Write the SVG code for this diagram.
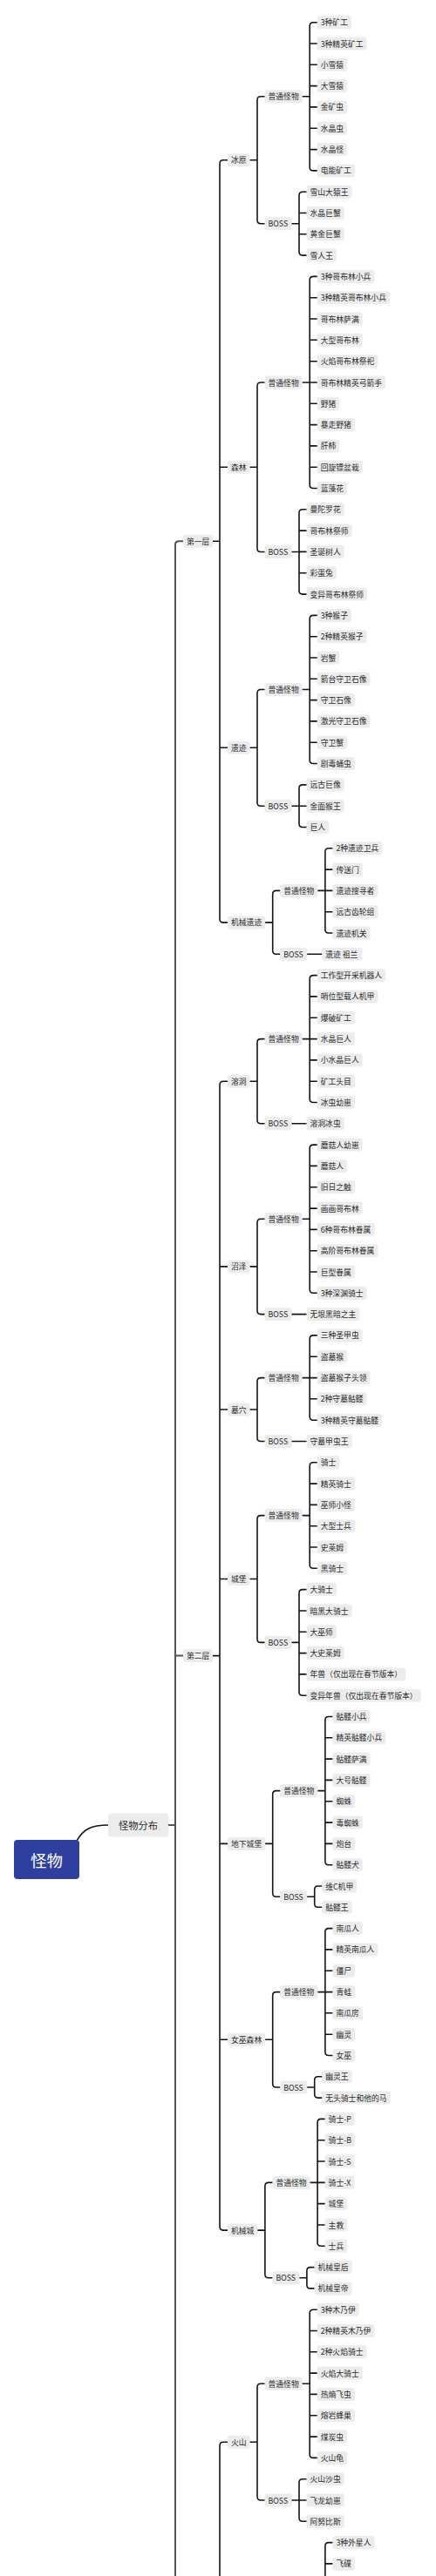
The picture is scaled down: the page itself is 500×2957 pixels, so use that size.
<svg xmlns="http://www.w3.org/2000/svg" width="500" height="2957" viewBox="0 0 500 2957">
<style>
.n rect{fill:#ececec}
.n text{font-family:"Noto Sans CJK SC","Liberation Sans",sans-serif;font-size:8.8px;fill:#2b2b2b;dominant-baseline:central}
.c path{fill:none;stroke:#151515;stroke-width:1.6;stroke-linecap:round}
.c path.g{stroke:#555;stroke-width:2}
</style>
<rect width="500" height="2957" fill="#fff"/>
<g id="connectors" class="c">
<path d="M88.3 2112.3C96 2100 104 2095 124 2095"/>
<path class="g" d="M193 2095H201M210 621.3H205Q201 621.3 201 625.3V2957M201 1900.6H210"/>
<path d="M244 621.3H252M261 183.7H256Q252 183.7 252 187.7V1054.9Q252 1058.9 256 1058.9H261M252 536.2H261M252 858.3H261"/>
<path d="M244 1900.6H252M261 1241.2H256Q252 1241.2 252 1245.2V2556.1Q252 2560.1 256 2560.1H261M252 1453.9H261M252 1618H261M252 1812.5H261M252 2116.4H261M252 2341.3H261"/>
<path d="M261 2803.2H256Q252 2803.2 252 2807.2V2957"/>
<path d="M286.6 183.7H295M303.5 110.8H299Q295 110.8 295 114.8V252.7Q295 256.7 299 256.7H303.5"/>
<path d="M346.7 110.8H355.2M363.7 25.7H359.2Q355.2 25.7 355.2 29.7V191.9Q355.2 195.9 359.2 195.9H363.7M355.2 50H363.7M355.2 74.3H363.7M355.2 98.6H363.7M355.2 122.9H363.7M355.2 147.3H363.7M355.2 171.6H363.7"/>
<path d="M334.5 256.7H343M351.5 220.2H347Q343 220.2 343 224.2V289.1Q343 293.1 347 293.1H351.5M343 244.5H351.5M343 268.8H351.5"/>
<path d="M286.6 536.2H295M303.5 439H299Q295 439 295 443V629.5Q295 633.5 299 633.5H303.5"/>
<path d="M346.7 439H355.2M363.7 317.4H359.2Q355.2 317.4 355.2 321.4V556.5Q355.2 560.5 359.2 560.5H363.7M355.2 341.7H363.7M355.2 366H363.7M355.2 390.3H363.7M355.2 414.7H363.7M355.2 439H363.7M355.2 463.3H363.7M355.2 487.6H363.7M355.2 511.9H363.7M355.2 536.2H363.7"/>
<path d="M334.5 633.5H343M351.5 584.8H347Q343 584.8 343 588.8V678.1Q343 682.1 347 682.1H351.5M343 609.1H351.5M343 633.4H351.5M343 657.8H351.5"/>
<path d="M286.6 858.3H295M303.5 791.5H299Q295 791.5 295 795.5V921.2Q295 925.2 299 925.2H303.5"/>
<path d="M346.7 791.5H355.2M363.7 706.4H359.2Q355.2 706.4 355.2 710.4V872.5Q355.2 876.5 359.2 876.5H363.7M355.2 730.7H363.7M355.2 755H363.7M355.2 779.3H363.7M355.2 803.6H363.7M355.2 827.9H363.7M355.2 852.2H363.7"/>
<path d="M334.5 925.2H351.5M351.5 900.9H347Q343 900.9 343 904.9V945.5Q343 949.5 347 949.5H351.5"/>
<path d="M304.2 1058.9H312.7M321.2 1022.4H316.7Q312.7 1022.4 312.7 1026.4V1091.3Q312.7 1095.3 316.7 1095.3H321.2"/>
<path d="M364.4 1022.4H381.4M381.4 973.8H376.9Q372.9 973.8 372.9 977.8V1067Q372.9 1071 376.9 1071H381.4M372.9 998.1H381.4M372.9 1046.7H381.4"/>
<path d="M352.2 1095.3H369.2"/>
<path d="M286.6 1241.2H295M303.5 1192.6H299Q295 1192.6 295 1196.6V1285.8Q295 1289.8 299 1289.8H303.5"/>
<path d="M346.7 1192.6H363.7M363.7 1119.6H359.2Q355.2 1119.6 355.2 1123.6V1261.5Q355.2 1265.5 359.2 1265.5H363.7M355.2 1143.9H363.7M355.2 1168.3H363.7M355.2 1216.9H363.7M355.2 1241.2H363.7"/>
<path d="M334.5 1289.8H351.5"/>
<path d="M286.6 1453.9H295M303.5 1399.2H299Q295 1399.2 295 1403.2V1504.6Q295 1508.6 299 1508.6H303.5"/>
<path d="M346.7 1399.2H355.2M363.7 1314.1H359.2Q355.2 1314.1 355.2 1318.1V1480.3Q355.2 1484.3 359.2 1484.3H363.7M355.2 1338.4H363.7M355.2 1362.7H363.7M355.2 1387.1H363.7M355.2 1411.4H363.7M355.2 1435.7H363.7M355.2 1460H363.7"/>
<path d="M334.5 1508.6H351.5"/>
<path d="M286.6 1618H295M303.5 1581.6H299Q295 1581.6 295 1585.6V1650.5Q295 1654.5 299 1654.5H303.5"/>
<path d="M346.7 1581.6H363.7M363.7 1532.9H359.2Q355.2 1532.9 355.2 1536.9V1626.2Q355.2 1630.2 359.2 1630.2H363.7M355.2 1557.2H363.7M355.2 1605.8H363.7"/>
<path d="M334.5 1654.5H351.5"/>
<path d="M286.6 1812.5H295M303.5 1739.6H299Q295 1739.6 295 1743.6V1881.4Q295 1885.4 299 1885.4H303.5"/>
<path d="M346.7 1739.6H355.2M363.7 1678.8H359.2Q355.2 1678.8 355.2 1682.8V1796.3Q355.2 1800.3 359.2 1800.3H363.7M355.2 1703.1H363.7M355.2 1727.4H363.7M355.2 1751.7H363.7M355.2 1776H363.7"/>
<path d="M334.5 1885.4H343M351.5 1824.6H347Q343 1824.6 343 1828.6V1942.2Q343 1946.2 347 1946.2H351.5M343 1849H351.5M343 1873.3H351.5M343 1897.6H351.5M343 1921.9H351.5"/>
<path d="M304.2 2116.4H312.7M321.2 2055.6H316.7Q312.7 2055.6 312.7 2059.6V2173.2Q312.7 2177.2 316.7 2177.2H321.2"/>
<path d="M364.4 2055.6H372.9M381.4 1970.5H376.9Q372.9 1970.5 372.9 1974.5V2136.7Q372.9 2140.7 376.9 2140.7H381.4M372.9 1994.8H381.4M372.9 2019.1H381.4M372.9 2043.4H381.4M372.9 2067.7H381.4M372.9 2092.1H381.4M372.9 2116.4H381.4"/>
<path d="M352.2 2177.2H360.7M369.2 2165H364.7Q360.7 2165 360.7 2169V2185.3Q360.7 2189.3 364.7 2189.3H369.2"/>
<path d="M304.2 2341.3H312.7M321.2 2286.6H316.7Q312.7 2286.6 312.7 2290.6V2392Q312.7 2396 316.7 2396H321.2"/>
<path d="M364.4 2286.6H381.4M381.4 2213.6H376.9Q372.9 2213.6 372.9 2217.6V2355.5Q372.9 2359.5 376.9 2359.5H381.4M372.9 2237.9H381.4M372.9 2262.2H381.4M372.9 2310.8H381.4M372.9 2335.2H381.4"/>
<path d="M352.2 2396H360.7M369.2 2383.8H364.7Q360.7 2383.8 360.7 2387.8V2404.1Q360.7 2408.1 364.7 2408.1H369.2"/>
<path d="M295.4 2560.1H303.9M312.4 2505.4H307.9Q303.9 2505.4 303.9 2509.4V2610.8Q303.9 2614.8 307.9 2614.8H312.4"/>
<path d="M355.6 2505.4H372.6M372.6 2432.4H368.1Q364.1 2432.4 364.1 2436.4V2574.3Q364.1 2578.3 368.1 2578.3H372.6M364.1 2456.7H372.6M364.1 2481H372.6M364.1 2529.6H372.6M364.1 2554H372.6"/>
<path d="M343.4 2614.8H351.9M360.4 2602.6H355.9Q351.9 2602.6 351.9 2606.6V2622.9Q351.9 2626.9 355.9 2626.9H360.4"/>
<path d="M286.6 2803.2H295M303.5 2736.3H299Q295 2736.3 295 2740.3V2866Q295 2870 299 2870H303.5"/>
<path d="M346.7 2736.3H355.2M363.7 2651.2H359.2Q355.2 2651.2 355.2 2655.2V2817.4Q355.2 2821.4 359.2 2821.4H363.7M355.2 2675.5H363.7M355.2 2699.8H363.7M355.2 2724.1H363.7M355.2 2748.4H363.7M355.2 2772.7H363.7M355.2 2797.1H363.7"/>
<path d="M334.5 2870H351.5M351.5 2845.7H347Q343 2845.7 343 2849.7V2890.3Q343 2894.3 347 2894.3H351.5"/>
<path d="M381.4 2918.6H376.9Q372.9 2918.6 372.9 2922.6V2957M372.9 2942.9H381.4"/>
</g>
<g id="root"><rect x="16" y="2112" width="75" height="45" rx="4" fill="#2f3f9f"/><text x="53.5" y="2135" font-family="Noto Sans CJK SC,Liberation Sans,sans-serif" font-size="18.5" fill="#fff" text-anchor="middle" dominant-baseline="central">怪物</text></g>
<g id="dist"><rect x="124" y="2081.5" width="69" height="27" rx="4" fill="#ececec"/><text x="158.5" y="2095" font-family="Noto Sans CJK SC,Liberation Sans,sans-serif" font-size="11.3" fill="#2b2b2b" text-anchor="middle" dominant-baseline="central">怪物分布</text></g>
<g id="layer1" class="n"><rect x="210" y="613.8" width="34" height="15" rx="3"/><text x="214" y="621.3">第一层</text></g>
<g id="layer2" class="n"><rect x="210" y="1893.1" width="34" height="15" rx="3"/><text x="214" y="1900.6">第二层</text></g>
<g id="bingyuan" class="n"><rect x="261" y="176.2" width="25.6" height="15" rx="3"/><text x="265" y="183.7">冰原</text></g>
<g id="senlin" class="n"><rect x="261" y="528.7" width="25.6" height="15" rx="3"/><text x="265" y="536.2">森林</text></g>
<g id="yiji" class="n"><rect x="261" y="850.8" width="25.6" height="15" rx="3"/><text x="265" y="858.3">遗迹</text></g>
<g id="jixieyiji" class="n"><rect x="261" y="1051.4" width="43.2" height="15" rx="3"/><text x="265" y="1058.9">机械遗迹</text></g>
<g id="rongdong" class="n"><rect x="261" y="1233.7" width="25.6" height="15" rx="3"/><text x="265" y="1241.2">溶洞</text></g>
<g id="zhaoze" class="n"><rect x="261" y="1446.4" width="25.6" height="15" rx="3"/><text x="265" y="1453.9">沼泽</text></g>
<g id="muxue" class="n"><rect x="261" y="1610.5" width="25.6" height="15" rx="3"/><text x="265" y="1618">墓穴</text></g>
<g id="chengbao" class="n"><rect x="261" y="1805" width="25.6" height="15" rx="3"/><text x="265" y="1812.5">城堡</text></g>
<g id="dixiachengbao" class="n"><rect x="261" y="2108.9" width="43.2" height="15" rx="3"/><text x="265" y="2116.4">地下城堡</text></g>
<g id="nvwusenlin" class="n"><rect x="261" y="2333.8" width="43.2" height="15" rx="3"/><text x="265" y="2341.3">女巫森林</text></g>
<g id="jixiecheng" class="n"><rect x="261" y="2552.6" width="34.4" height="15" rx="3"/><text x="265" y="2560.1">机械城</text></g>
<g id="huoshan" class="n"><rect x="261" y="2795.7" width="25.6" height="15" rx="3"/><text x="265" y="2803.2">火山</text></g>
<g id="bingyuan-n" class="n"><rect x="303.5" y="103.3" width="43.2" height="15" rx="3"/><text x="307.5" y="110.8">普通怪物</text></g>
<g id="bingyuan-b" class="n"><rect x="303.5" y="249.2" width="31" height="15" rx="3"/><text x="307.5" y="256.7">BOSS</text></g>
<g id="senlin-n" class="n"><rect x="303.5" y="431.5" width="43.2" height="15" rx="3"/><text x="307.5" y="439">普通怪物</text></g>
<g id="senlin-b" class="n"><rect x="303.5" y="626" width="31" height="15" rx="3"/><text x="307.5" y="633.5">BOSS</text></g>
<g id="yiji-n" class="n"><rect x="303.5" y="784" width="43.2" height="15" rx="3"/><text x="307.5" y="791.5">普通怪物</text></g>
<g id="yiji-b" class="n"><rect x="303.5" y="917.7" width="31" height="15" rx="3"/><text x="307.5" y="925.2">BOSS</text></g>
<g id="jixieyiji-n" class="n"><rect x="321.2" y="1014.9" width="43.2" height="15" rx="3"/><text x="325.2" y="1022.4">普通怪物</text></g>
<g id="jixieyiji-b" class="n"><rect x="321.2" y="1087.8" width="31" height="15" rx="3"/><text x="325.2" y="1095.3">BOSS</text></g>
<g id="rongdong-n" class="n"><rect x="303.5" y="1185.1" width="43.2" height="15" rx="3"/><text x="307.5" y="1192.6">普通怪物</text></g>
<g id="rongdong-b" class="n"><rect x="303.5" y="1282.3" width="31" height="15" rx="3"/><text x="307.5" y="1289.8">BOSS</text></g>
<g id="zhaoze-n" class="n"><rect x="303.5" y="1391.7" width="43.2" height="15" rx="3"/><text x="307.5" y="1399.2">普通怪物</text></g>
<g id="zhaoze-b" class="n"><rect x="303.5" y="1501.1" width="31" height="15" rx="3"/><text x="307.5" y="1508.6">BOSS</text></g>
<g id="muxue-n" class="n"><rect x="303.5" y="1574.1" width="43.2" height="15" rx="3"/><text x="307.5" y="1581.6">普通怪物</text></g>
<g id="muxue-b" class="n"><rect x="303.5" y="1647" width="31" height="15" rx="3"/><text x="307.5" y="1654.5">BOSS</text></g>
<g id="chengbao-n" class="n"><rect x="303.5" y="1732.1" width="43.2" height="15" rx="3"/><text x="307.5" y="1739.6">普通怪物</text></g>
<g id="chengbao-b" class="n"><rect x="303.5" y="1877.9" width="31" height="15" rx="3"/><text x="307.5" y="1885.4">BOSS</text></g>
<g id="dixiachengbao-n" class="n"><rect x="321.2" y="2048.1" width="43.2" height="15" rx="3"/><text x="325.2" y="2055.6">普通怪物</text></g>
<g id="dixiachengbao-b" class="n"><rect x="321.2" y="2169.7" width="31" height="15" rx="3"/><text x="325.2" y="2177.2">BOSS</text></g>
<g id="nvwusenlin-n" class="n"><rect x="321.2" y="2279.1" width="43.2" height="15" rx="3"/><text x="325.2" y="2286.6">普通怪物</text></g>
<g id="nvwusenlin-b" class="n"><rect x="321.2" y="2388.5" width="31" height="15" rx="3"/><text x="325.2" y="2396">BOSS</text></g>
<g id="jixiecheng-n" class="n"><rect x="312.4" y="2497.9" width="43.2" height="15" rx="3"/><text x="316.4" y="2505.4">普通怪物</text></g>
<g id="jixiecheng-b" class="n"><rect x="312.4" y="2607.3" width="31" height="15" rx="3"/><text x="316.4" y="2614.8">BOSS</text></g>
<g id="huoshan-n" class="n"><rect x="303.5" y="2728.8" width="43.2" height="15" rx="3"/><text x="307.5" y="2736.3">普通怪物</text></g>
<g id="huoshan-b" class="n"><rect x="303.5" y="2862.5" width="31" height="15" rx="3"/><text x="307.5" y="2870">BOSS</text></g>
<g id="m0" class="n"><rect x="363.7" y="18.2" width="39.3" height="15" rx="3"/><text x="367.7" y="25.7">3种矿工</text></g>
<g id="m1" class="n"><rect x="363.7" y="42.5" width="56.9" height="15" rx="3"/><text x="367.7" y="50">3种精英矿工</text></g>
<g id="m2" class="n"><rect x="363.7" y="66.8" width="34.4" height="15" rx="3"/><text x="367.7" y="74.3">小雪猿</text></g>
<g id="m3" class="n"><rect x="363.7" y="91.1" width="34.4" height="15" rx="3"/><text x="367.7" y="98.6">大雪猿</text></g>
<g id="m4" class="n"><rect x="363.7" y="115.4" width="34.4" height="15" rx="3"/><text x="367.7" y="122.9">金矿虫</text></g>
<g id="m5" class="n"><rect x="363.7" y="139.8" width="34.4" height="15" rx="3"/><text x="367.7" y="147.3">水晶虫</text></g>
<g id="m6" class="n"><rect x="363.7" y="164.1" width="34.4" height="15" rx="3"/><text x="367.7" y="171.6">水晶怪</text></g>
<g id="m7" class="n"><rect x="363.7" y="188.4" width="43.2" height="15" rx="3"/><text x="367.7" y="195.9">电能矿工</text></g>
<g id="m8" class="n"><rect x="351.5" y="212.7" width="52" height="15" rx="3"/><text x="355.5" y="220.2">雪山大猿王</text></g>
<g id="m9" class="n"><rect x="351.5" y="237" width="43.2" height="15" rx="3"/><text x="355.5" y="244.5">水晶巨蟹</text></g>
<g id="m10" class="n"><rect x="351.5" y="261.3" width="43.2" height="15" rx="3"/><text x="355.5" y="268.8">黄金巨蟹</text></g>
<g id="m11" class="n"><rect x="351.5" y="285.6" width="34.4" height="15" rx="3"/><text x="355.5" y="293.1">雪人王</text></g>
<g id="m12" class="n"><rect x="363.7" y="309.9" width="65.7" height="15" rx="3"/><text x="367.7" y="317.4">3种哥布林小兵</text></g>
<g id="m13" class="n"><rect x="363.7" y="334.2" width="83.3" height="15" rx="3"/><text x="367.7" y="341.7">3种精英哥布林小兵</text></g>
<g id="m14" class="n"><rect x="363.7" y="358.5" width="52" height="15" rx="3"/><text x="367.7" y="366">哥布林萨满</text></g>
<g id="m15" class="n"><rect x="363.7" y="382.8" width="52" height="15" rx="3"/><text x="367.7" y="390.3">大型哥布林</text></g>
<g id="m16" class="n"><rect x="363.7" y="407.2" width="69.6" height="15" rx="3"/><text x="367.7" y="414.7">火焰哥布林祭祀</text></g>
<g id="m17" class="n"><rect x="363.7" y="431.5" width="78.4" height="15" rx="3"/><text x="367.7" y="439">哥布林精英弓箭手</text></g>
<g id="m18" class="n"><rect x="363.7" y="455.8" width="25.6" height="15" rx="3"/><text x="367.7" y="463.3">野猪</text></g>
<g id="m19" class="n"><rect x="363.7" y="480.1" width="43.2" height="15" rx="3"/><text x="367.7" y="487.6">暴走野猪</text></g>
<g id="m20" class="n"><rect x="363.7" y="504.4" width="25.6" height="15" rx="3"/><text x="367.7" y="511.9">肝柿</text></g>
<g id="m21" class="n"><rect x="363.7" y="528.7" width="52" height="15" rx="3"/><text x="367.7" y="536.2">回旋镖盆栽</text></g>
<g id="m22" class="n"><rect x="363.7" y="553" width="34.4" height="15" rx="3"/><text x="367.7" y="560.5">蓝藻花</text></g>
<g id="m23" class="n"><rect x="351.5" y="577.3" width="43.2" height="15" rx="3"/><text x="355.5" y="584.8">曼陀罗花</text></g>
<g id="m24" class="n"><rect x="351.5" y="601.6" width="52" height="15" rx="3"/><text x="355.5" y="609.1">哥布林祭师</text></g>
<g id="m25" class="n"><rect x="351.5" y="625.9" width="43.2" height="15" rx="3"/><text x="355.5" y="633.4">圣诞树人</text></g>
<g id="m26" class="n"><rect x="351.5" y="650.3" width="34.4" height="15" rx="3"/><text x="355.5" y="657.8">彩蛋兔</text></g>
<g id="m27" class="n"><rect x="351.5" y="674.6" width="69.6" height="15" rx="3"/><text x="355.5" y="682.1">变异哥布林祭师</text></g>
<g id="m28" class="n"><rect x="363.7" y="698.9" width="39.3" height="15" rx="3"/><text x="367.7" y="706.4">3种猴子</text></g>
<g id="m29" class="n"><rect x="363.7" y="723.2" width="56.9" height="15" rx="3"/><text x="367.7" y="730.7">2种精英猴子</text></g>
<g id="m30" class="n"><rect x="363.7" y="747.5" width="25.6" height="15" rx="3"/><text x="367.7" y="755">岩蟹</text></g>
<g id="m31" class="n"><rect x="363.7" y="771.8" width="60.8" height="15" rx="3"/><text x="367.7" y="779.3">箭台守卫石像</text></g>
<g id="m32" class="n"><rect x="363.7" y="796.1" width="43.2" height="15" rx="3"/><text x="367.7" y="803.6">守卫石像</text></g>
<g id="m33" class="n"><rect x="363.7" y="820.4" width="60.8" height="15" rx="3"/><text x="367.7" y="827.9">激光守卫石像</text></g>
<g id="m34" class="n"><rect x="363.7" y="844.7" width="34.4" height="15" rx="3"/><text x="367.7" y="852.2">守卫蟹</text></g>
<g id="m35" class="n"><rect x="363.7" y="869" width="43.2" height="15" rx="3"/><text x="367.7" y="876.5">剧毒蛹虫</text></g>
<g id="m36" class="n"><rect x="351.5" y="893.4" width="43.2" height="15" rx="3"/><text x="355.5" y="900.9">远古巨像</text></g>
<g id="m37" class="n"><rect x="351.5" y="917.7" width="43.2" height="15" rx="3"/><text x="355.5" y="925.2">金面猴王</text></g>
<g id="m38" class="n"><rect x="351.5" y="942" width="25.6" height="15" rx="3"/><text x="355.5" y="949.5">巨人</text></g>
<g id="m39" class="n"><rect x="381.4" y="966.3" width="56.9" height="15" rx="3"/><text x="385.4" y="973.8">2种遗迹卫兵</text></g>
<g id="m40" class="n"><rect x="381.4" y="990.6" width="34.4" height="15" rx="3"/><text x="385.4" y="998.1">传送门</text></g>
<g id="m41" class="n"><rect x="381.4" y="1014.9" width="52" height="15" rx="3"/><text x="385.4" y="1022.4">遗迹搜寻者</text></g>
<g id="m42" class="n"><rect x="381.4" y="1039.2" width="52" height="15" rx="3"/><text x="385.4" y="1046.7">远古齿轮组</text></g>
<g id="m43" class="n"><rect x="381.4" y="1063.5" width="43.2" height="15" rx="3"/><text x="385.4" y="1071">遗迹机关</text></g>
<g id="m44" class="n"><rect x="369.2" y="1087.8" width="45.7" height="15" rx="3"/><text x="373.2" y="1095.3">遗迹 祖兰</text></g>
<g id="m45" class="n"><rect x="363.7" y="1112.1" width="78.4" height="15" rx="3"/><text x="367.7" y="1119.6">工作型开采机器人</text></g>
<g id="m46" class="n"><rect x="363.7" y="1136.4" width="69.6" height="15" rx="3"/><text x="367.7" y="1143.9">哨位型载人机甲</text></g>
<g id="m47" class="n"><rect x="363.7" y="1160.8" width="43.2" height="15" rx="3"/><text x="367.7" y="1168.3">爆破矿工</text></g>
<g id="m48" class="n"><rect x="363.7" y="1185.1" width="43.2" height="15" rx="3"/><text x="367.7" y="1192.6">水晶巨人</text></g>
<g id="m49" class="n"><rect x="363.7" y="1209.4" width="52" height="15" rx="3"/><text x="367.7" y="1216.9">小水晶巨人</text></g>
<g id="m50" class="n"><rect x="363.7" y="1233.7" width="43.2" height="15" rx="3"/><text x="367.7" y="1241.2">矿工头目</text></g>
<g id="m51" class="n"><rect x="363.7" y="1258" width="43.2" height="15" rx="3"/><text x="367.7" y="1265.5">冰虫幼崽</text></g>
<g id="m52" class="n"><rect x="351.5" y="1282.3" width="43.2" height="15" rx="3"/><text x="355.5" y="1289.8">溶洞冰虫</text></g>
<g id="m53" class="n"><rect x="363.7" y="1306.6" width="52" height="15" rx="3"/><text x="367.7" y="1314.1">蘑菇人幼崽</text></g>
<g id="m54" class="n"><rect x="363.7" y="1330.9" width="34.4" height="15" rx="3"/><text x="367.7" y="1338.4">蘑菇人</text></g>
<g id="m55" class="n"><rect x="363.7" y="1355.2" width="43.2" height="15" rx="3"/><text x="367.7" y="1362.7">旧日之触</text></g>
<g id="m56" class="n"><rect x="363.7" y="1379.6" width="52" height="15" rx="3"/><text x="367.7" y="1387.1">画画哥布林</text></g>
<g id="m57" class="n"><rect x="363.7" y="1403.9" width="65.7" height="15" rx="3"/><text x="367.7" y="1411.4">6种哥布林眷属</text></g>
<g id="m58" class="n"><rect x="363.7" y="1428.2" width="69.6" height="15" rx="3"/><text x="367.7" y="1435.7">高阶哥布林眷属</text></g>
<g id="m59" class="n"><rect x="363.7" y="1452.5" width="43.2" height="15" rx="3"/><text x="367.7" y="1460">巨型眷属</text></g>
<g id="m60" class="n"><rect x="363.7" y="1476.8" width="56.9" height="15" rx="3"/><text x="367.7" y="1484.3">3种深渊骑士</text></g>
<g id="m61" class="n"><rect x="351.5" y="1501.1" width="60.8" height="15" rx="3"/><text x="355.5" y="1508.6">无垠黑暗之主</text></g>
<g id="m62" class="n"><rect x="363.7" y="1525.4" width="52" height="15" rx="3"/><text x="367.7" y="1532.9">三种圣甲虫</text></g>
<g id="m63" class="n"><rect x="363.7" y="1549.7" width="34.4" height="15" rx="3"/><text x="367.7" y="1557.2">盗墓猴</text></g>
<g id="m64" class="n"><rect x="363.7" y="1574" width="60.8" height="15" rx="3"/><text x="367.7" y="1581.5">盗墓猴子头领</text></g>
<g id="m65" class="n"><rect x="363.7" y="1598.3" width="56.9" height="15" rx="3"/><text x="367.7" y="1605.8">2种守墓骷髅</text></g>
<g id="m66" class="n"><rect x="363.7" y="1622.7" width="74.5" height="15" rx="3"/><text x="367.7" y="1630.2">3种精英守墓骷髅</text></g>
<g id="m67" class="n"><rect x="351.5" y="1647" width="52" height="15" rx="3"/><text x="355.5" y="1654.5">守墓甲虫王</text></g>
<g id="m68" class="n"><rect x="363.7" y="1671.3" width="25.6" height="15" rx="3"/><text x="367.7" y="1678.8">骑士</text></g>
<g id="m69" class="n"><rect x="363.7" y="1695.6" width="43.2" height="15" rx="3"/><text x="367.7" y="1703.1">精英骑士</text></g>
<g id="m70" class="n"><rect x="363.7" y="1719.9" width="43.2" height="15" rx="3"/><text x="367.7" y="1727.4">巫师小怪</text></g>
<g id="m71" class="n"><rect x="363.7" y="1744.2" width="43.2" height="15" rx="3"/><text x="367.7" y="1751.7">大型士兵</text></g>
<g id="m72" class="n"><rect x="363.7" y="1768.5" width="34.4" height="15" rx="3"/><text x="367.7" y="1776">史莱姆</text></g>
<g id="m73" class="n"><rect x="363.7" y="1792.8" width="34.4" height="15" rx="3"/><text x="367.7" y="1800.3">黑骑士</text></g>
<g id="m74" class="n"><rect x="351.5" y="1817.1" width="34.4" height="15" rx="3"/><text x="355.5" y="1824.6">大骑士</text></g>
<g id="m75" class="n"><rect x="351.5" y="1841.5" width="52" height="15" rx="3"/><text x="355.5" y="1849">暗黑大骑士</text></g>
<g id="m76" class="n"><rect x="351.5" y="1865.8" width="34.4" height="15" rx="3"/><text x="355.5" y="1873.3">大巫师</text></g>
<g id="m77" class="n"><rect x="351.5" y="1890.1" width="43.2" height="15" rx="3"/><text x="355.5" y="1897.6">大史莱姆</text></g>
<g id="m78" class="n"><rect x="351.5" y="1914.4" width="113.6" height="15" rx="3"/><text x="355.5" y="1921.9">年兽（仅出现在春节版本）</text></g>
<g id="m79" class="n"><rect x="351.5" y="1938.7" width="131.2" height="15" rx="3"/><text x="355.5" y="1946.2">变异年兽（仅出现在春节版本）</text></g>
<g id="m80" class="n"><rect x="381.4" y="1963" width="43.2" height="15" rx="3"/><text x="385.4" y="1970.5">骷髅小兵</text></g>
<g id="m81" class="n"><rect x="381.4" y="1987.3" width="60.8" height="15" rx="3"/><text x="385.4" y="1994.8">精英骷髅小兵</text></g>
<g id="m82" class="n"><rect x="381.4" y="2011.6" width="43.2" height="15" rx="3"/><text x="385.4" y="2019.1">骷髅萨满</text></g>
<g id="m83" class="n"><rect x="381.4" y="2035.9" width="43.2" height="15" rx="3"/><text x="385.4" y="2043.4">大号骷髅</text></g>
<g id="m84" class="n"><rect x="381.4" y="2060.2" width="25.6" height="15" rx="3"/><text x="385.4" y="2067.7">蜘蛛</text></g>
<g id="m85" class="n"><rect x="381.4" y="2084.6" width="34.4" height="15" rx="3"/><text x="385.4" y="2092.1">毒蜘蛛</text></g>
<g id="m86" class="n"><rect x="381.4" y="2108.9" width="25.6" height="15" rx="3"/><text x="385.4" y="2116.4">炮台</text></g>
<g id="m87" class="n"><rect x="381.4" y="2133.2" width="34.4" height="15" rx="3"/><text x="385.4" y="2140.7">骷髅犬</text></g>
<g id="m88" class="n"><rect x="369.2" y="2157.5" width="40" height="15" rx="3"/><text x="373.2" y="2165">维C机甲</text></g>
<g id="m89" class="n"><rect x="369.2" y="2181.8" width="34.4" height="15" rx="3"/><text x="373.2" y="2189.3">骷髅王</text></g>
<g id="m90" class="n"><rect x="381.4" y="2206.1" width="34.4" height="15" rx="3"/><text x="385.4" y="2213.6">南瓜人</text></g>
<g id="m91" class="n"><rect x="381.4" y="2230.4" width="52" height="15" rx="3"/><text x="385.4" y="2237.9">精英南瓜人</text></g>
<g id="m92" class="n"><rect x="381.4" y="2254.7" width="25.6" height="15" rx="3"/><text x="385.4" y="2262.2">僵尸</text></g>
<g id="m93" class="n"><rect x="381.4" y="2279" width="25.6" height="15" rx="3"/><text x="385.4" y="2286.5">青蛙</text></g>
<g id="m94" class="n"><rect x="381.4" y="2303.3" width="34.4" height="15" rx="3"/><text x="385.4" y="2310.8">南瓜房</text></g>
<g id="m95" class="n"><rect x="381.4" y="2327.7" width="25.6" height="15" rx="3"/><text x="385.4" y="2335.2">幽灵</text></g>
<g id="m96" class="n"><rect x="381.4" y="2352" width="25.6" height="15" rx="3"/><text x="385.4" y="2359.5">女巫</text></g>
<g id="m97" class="n"><rect x="369.2" y="2376.3" width="34.4" height="15" rx="3"/><text x="373.2" y="2383.8">幽灵王</text></g>
<g id="m98" class="n"><rect x="369.2" y="2400.6" width="78.4" height="15" rx="3"/><text x="373.2" y="2408.1">无头骑士和他的马</text></g>
<g id="m99" class="n"><rect x="372.6" y="2424.9" width="34" height="15" rx="3"/><text x="376.6" y="2432.4">骑士-P</text></g>
<g id="m100" class="n"><rect x="372.6" y="2449.2" width="34.2" height="15" rx="3"/><text x="376.6" y="2456.7">骑士-B</text></g>
<g id="m101" class="n"><rect x="372.6" y="2473.5" width="33.6" height="15" rx="3"/><text x="376.6" y="2481">骑士-S</text></g>
<g id="m102" class="n"><rect x="372.6" y="2497.8" width="33.9" height="15" rx="3"/><text x="376.6" y="2505.3">骑士-X</text></g>
<g id="m103" class="n"><rect x="372.6" y="2522.1" width="25.6" height="15" rx="3"/><text x="376.6" y="2529.6">城堡</text></g>
<g id="m104" class="n"><rect x="372.6" y="2546.5" width="25.6" height="15" rx="3"/><text x="376.6" y="2554">主教</text></g>
<g id="m105" class="n"><rect x="372.6" y="2570.8" width="25.6" height="15" rx="3"/><text x="376.6" y="2578.3">士兵</text></g>
<g id="m106" class="n"><rect x="360.4" y="2595.1" width="43.2" height="15" rx="3"/><text x="364.4" y="2602.6">机械皇后</text></g>
<g id="m107" class="n"><rect x="360.4" y="2619.4" width="43.2" height="15" rx="3"/><text x="364.4" y="2626.9">机械皇帝</text></g>
<g id="m108" class="n"><rect x="363.7" y="2643.7" width="48.1" height="15" rx="3"/><text x="367.7" y="2651.2">3种木乃伊</text></g>
<g id="m109" class="n"><rect x="363.7" y="2668" width="65.7" height="15" rx="3"/><text x="367.7" y="2675.5">2种精英木乃伊</text></g>
<g id="m110" class="n"><rect x="363.7" y="2692.3" width="56.9" height="15" rx="3"/><text x="367.7" y="2699.8">2种火焰骑士</text></g>
<g id="m111" class="n"><rect x="363.7" y="2716.6" width="52" height="15" rx="3"/><text x="367.7" y="2724.1">火焰大骑士</text></g>
<g id="m112" class="n"><rect x="363.7" y="2740.9" width="43.2" height="15" rx="3"/><text x="367.7" y="2748.4">热熵飞虫</text></g>
<g id="m113" class="n"><rect x="363.7" y="2765.2" width="43.2" height="15" rx="3"/><text x="367.7" y="2772.7">熔岩蜂巢</text></g>
<g id="m114" class="n"><rect x="363.7" y="2789.6" width="34.4" height="15" rx="3"/><text x="367.7" y="2797.1">煤炭虫</text></g>
<g id="m115" class="n"><rect x="363.7" y="2813.9" width="34.4" height="15" rx="3"/><text x="367.7" y="2821.4">火山龟</text></g>
<g id="m116" class="n"><rect x="351.5" y="2838.2" width="43.2" height="15" rx="3"/><text x="355.5" y="2845.7">火山沙虫</text></g>
<g id="m117" class="n"><rect x="351.5" y="2862.5" width="43.2" height="15" rx="3"/><text x="355.5" y="2870">飞龙幼崽</text></g>
<g id="m118" class="n"><rect x="351.5" y="2886.8" width="43.2" height="15" rx="3"/><text x="355.5" y="2894.3">阿努比斯</text></g>
<g id="m119" class="n"><rect x="381.4" y="2911.1" width="48.1" height="15" rx="3"/><text x="385.4" y="2918.6">3种外星人</text></g>
<g id="m120" class="n"><rect x="381.4" y="2935.4" width="25.6" height="15" rx="3"/><text x="385.4" y="2942.9">飞碟</text></g>
</svg>
